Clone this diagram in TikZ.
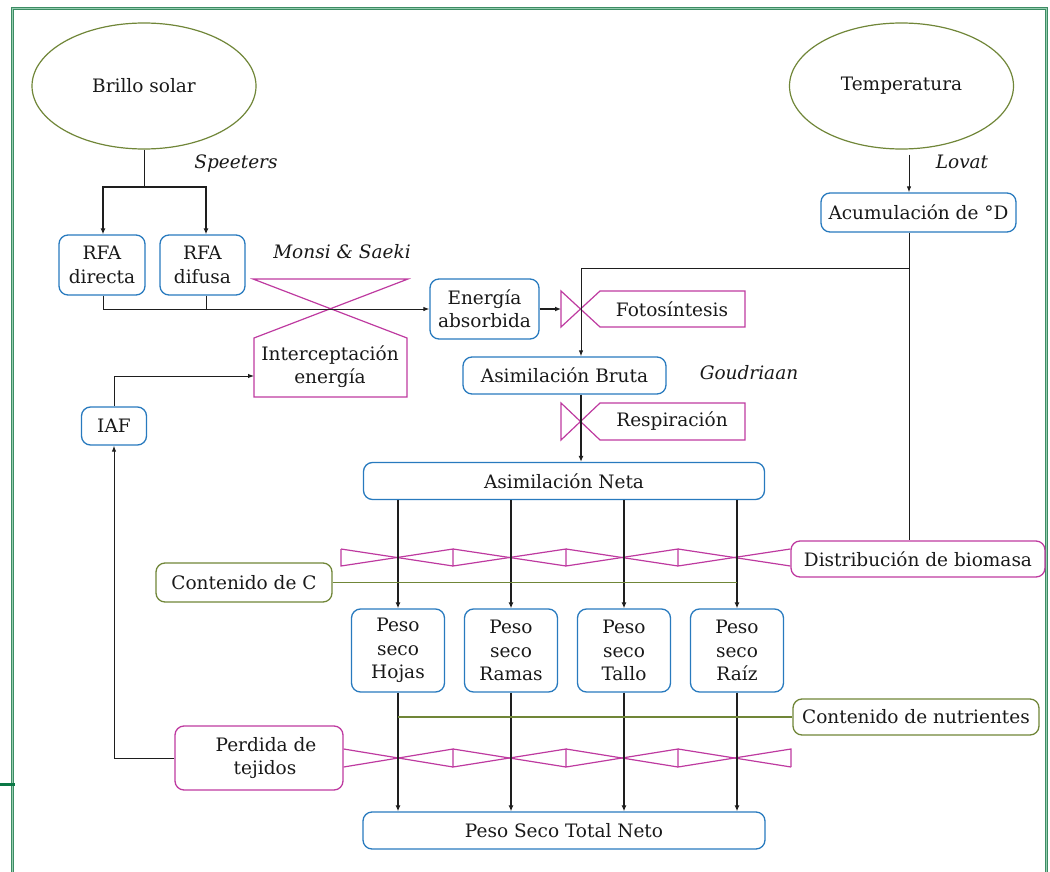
\documentclass[tikz,border=0pt]{standalone}
\usepackage{fontspec}
\setmainfont{DejaVu Serif}
\usetikzlibrary{arrows.meta,shapes.geometric}
\definecolor{blueC}{RGB}{40,122,190}
\definecolor{magC}{RGB}{190,58,160}
\definecolor{oliveC}{RGB}{112,134,56}
\definecolor{txtC}{RGB}{25,25,25}
\definecolor{lineC}{RGB}{30,30,30}
\definecolor{frameD}{RGB}{60,140,100}
\definecolor{frameL}{RGB}{150,205,175}
\definecolor{tickC}{RGB}{10,120,70}
\tikzset{
  base/.style={text=txtC, font=\fontsize{18.5}{23.3}\selectfont, align=center, inner sep=0pt},
  bbox/.style={base, draw=blueC, line width=1.3pt, rounded corners=9pt},
  gbox/.style={base, draw=oliveC, line width=1.3pt, rounded corners=9pt},
  mbox/.style={base, draw=magC, line width=1.3pt, rounded corners=9pt},
  oval/.style={base, ellipse, draw=oliveC, line width=1.2pt, minimum width=224pt, minimum height=126pt},
  ref/.style={base, font=\fontsize{18.5}{23.3}\selectfont\itshape},
  valve/.style={draw=magC, line width=1.2pt, line join=miter},
  arr/.style={draw=lineC, line width=1pt, -{Latex[length=6pt,width=4.5pt]}},
  tarr/.style={draw=lineC, line width=1.7pt, -{Latex[length=6pt,width=5pt]}},
  ln/.style={draw=lineC, line width=1pt},
  gln/.style={draw=oliveC, line width=1.1pt}
}
\begin{document}
\begin{tikzpicture}[x=1pt,y=-1pt]
\useasboundingbox (0,0) rectangle (1050,872);
% frame
\draw[draw=frameD, double=frameL, double distance=1.2pt, line width=0.7pt] (12.5,872) -- (12.5,8.5) -- (1046.5,8.5) -- (1046.5,872);
\draw[tickC, line width=3pt] (0,784) -- (15,784);

% ellipses
\node[oval] (sol) at (144,86) {Brillo solar};
\node[oval] (temp) at (901.5,86) {Temperatura};

% boxes
\node[bbox, minimum width=86pt, minimum height=60pt] (rfadir) at (102,265) {RFA\\directa};
\node[bbox, minimum width=85pt, minimum height=60pt] (rfadif) at (202.5,265) {RFA\\difusa};
\node[bbox, minimum width=109pt, minimum height=60pt] (energia) at (484.5,309) {Energía\\absorbida};
\node[bbox, minimum width=203pt, minimum height=37pt] (bruta) at (564.5,375.5) {Asimilación Bruta};
\node[bbox, minimum width=401pt, minimum height=37pt] (neta) at (564,481) {Asimilación Neta};
\node[bbox, minimum width=195pt, minimum height=39pt] (acum) at (918.5,212.5) {Acumulación de °D};
\node[bbox, minimum width=65pt, minimum height=38pt] (iaf) at (114,426) {IAF};
\node[gbox, minimum width=176pt, minimum height=39pt] (contc) at (244,582.5) {Contenido de C};
\node[mbox, minimum width=254pt, minimum height=36pt] (distr) at (918,559) {Distribución de biomasa};
\node[bbox, minimum width=93pt, minimum height=83pt] (hojas) at (398,650.5) {Peso\\seco\\Hojas};
\node[bbox, minimum width=93pt, minimum height=83pt] (ramas) at (511,650.5) {Peso\\seco\\Ramas};
\node[bbox, minimum width=93pt, minimum height=83pt] (tallo) at (624,650.5) {Peso\\seco\\Tallo};
\node[bbox, minimum width=93pt, minimum height=83pt] (raiz) at (737,650.5) {Peso\\seco\\Raíz};
\node[gbox, minimum width=246pt, minimum height=36pt] (nutr) at (916,717) {Contenido de nutrientes};
\node[mbox, minimum width=168pt, minimum height=64pt] (perdida) at (259,758) {\hspace*{14pt}Perdida de\\\hspace*{12pt}tejidos};
\node[bbox, minimum width=402pt, minimum height=37pt] (total) at (564,830.5) {Peso Seco Total Neto};

% valves
\draw[valve] (253,279) -- (408,279) -- (254,338) -- (254,397) -- (407,397) -- (407,338) -- cycle;
\node[base] (interc) at (330,367) {Interceptación\\energía};
\draw[valve] (561,291) -- (600,327) -- (745,327) -- (745,291) -- (600,291) -- (561,327) -- cycle;
\node[base] (foto) at (672,309) {Fotosíntesis};
\draw[valve] (561,403) -- (600,440) -- (745,440) -- (745,403) -- (600,403) -- (561,440) -- cycle;
\node[base] (resp) at (672,421) {Respiración};

% distribution zigzag
\draw[valve] (341,549) -- (341,566) -- (453,549) -- (453,566) -- (566,549) -- (566,566) -- (678,549) -- (678,566) -- (distr.west |- 0,549);
\draw[valve] (341,549) -- (453,566) (453,549) -- (566,566) (566,549) -- (678,566) (678,549) -- (distr.west |- 0,566);
% loss zigzag
\draw[valve] (perdida.east |- 0,767) -- (453,749) -- (453,767) -- (566,749) -- (566,767) -- (678,749) -- (678,767) -- (791,749) -- (791,767);
\draw[valve] (perdida.east |- 0,749) -- (453,767) (453,749) -- (566,767) (566,749) -- (678,767) (678,749) -- (791,767);

% reference labels
\node[ref] (speet) at (236,164) {Speeters};
\node[ref] (monsi) at (342,252) {Monsi \& Saeki};
\node[ref] (goud) at (749,373) {Goudriaan};
\node[ref] (lovat) at (962,162) {Lovat};

% coordinates
\coordinate (sp) at (144,187);
\coordinate (dcol) at (909,268);
\coordinate (vA) at (581,268);
\coordinate (fotoL) at (561,309);
\coordinate (icL) at (254,376);
\coordinate (lossC) at (114,758);

% connectors
\draw[ln] (sol.south) -- (sp);
\draw[tarr, line width=1.4pt] (sp) -| ([xshift=1pt]rfadir.north);
\draw[tarr, line width=1.4pt] (sp) -| ([xshift=3.5pt]rfadif.north);
\draw[arr] ([xshift=1pt]rfadir.south) |- (energia.west);
\draw[ln] ([xshift=3.5pt]rfadif.south) -- ([xshift=3.5pt]rfadif.south |- energia.west);
\draw[tarr] (energia.east) -- (fotoL);
\draw[arr] ([yshift=-5pt]temp.south -| dcol) -- (acum.north -| dcol);
\draw[ln] (acum.south -| dcol) -- (distr.north -| dcol);
\draw[arr] (dcol) -- (vA) -- (bruta.north -| vA);
\draw[tarr] (bruta.south -| vA) -- (neta.north -| vA);
\foreach \n in {hojas,ramas,tallo,raiz}{
  \draw[tarr] (neta.south -| \n) -- (\n.north);
  \draw[tarr] (\n.south) -- (total.north -| \n);
}
\draw[gln] (contc.east) -- (contc.east -| raiz);
\draw[gln] (nutr.west) -- (nutr.west -| hojas);
\draw[arr] (perdida.west) -- (lossC) -- (iaf.south);
\draw[arr] (iaf.north) |- (icL);
\end{tikzpicture}
\end{document}
